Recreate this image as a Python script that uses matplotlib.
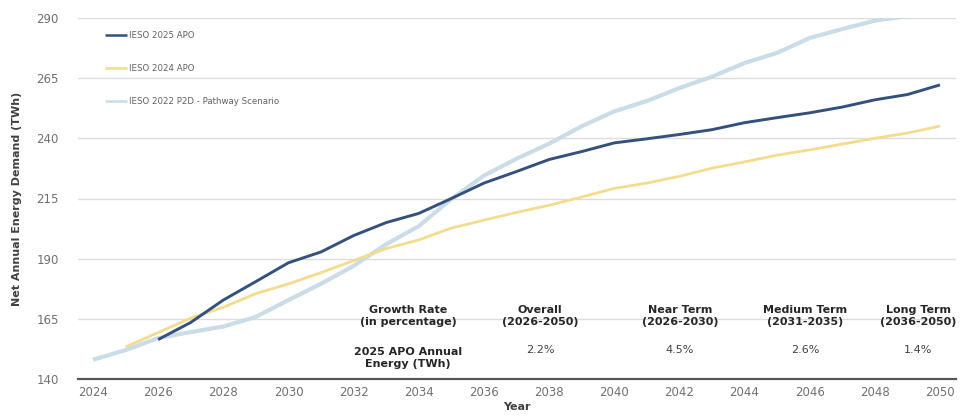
import matplotlib
import matplotlib.pyplot as plt

matplotlib.use('Agg')

# 年
years = list(range(2024, 2051))

# IESO 2025 APO (2026-2050)
apo_2025_years = list(range(2026, 2051))
apo_2025 = [156.4, 163.5, 172.8, 180.5, 188.3, 192.8, 199.6, 205.0, 208.8, 215.0,
            221.4, 226.2, 231.2, 234.5, 238.1, 239.8, 241.6, 243.6, 246.5, 248.6,
            250.6, 253.0, 256.0, 258.2, 262.2]

# IESO 2024 APO (2025-2050)
apo_2024_years = list(range(2025, 2051))
apo_2024 = [153.3, 159.3, 165.3, 169.8, 175.5, 179.5, 184.2, 189.2, 194.2, 197.8,
            202.7, 206.0, 209.2, 212.2, 215.6, 219.2, 221.4, 224.2, 227.6, 230.2,
            233.0, 235.2, 237.6, 240.0, 242.2, 245.1]

# IESO 2022 P2D - Pathway Scenario (2024-2050)
p2d_years = list(range(2024, 2051))
p2d_2022 = [148.0, 152.0, 157.0, 159.5, 161.8, 165.8, 172.8, 179.6, 187.0, 196.0,
            203.5, 214.8, 224.5, 231.5, 237.8, 245.0, 251.2, 255.5, 260.9, 265.6,
            271.3, 275.5, 281.7, 285.4, 288.9, 290.8, 293.3]

x_ticks = list(range(2024, 2051, 2))
y_ticks = [140, 165, 190, 215, 240, 265, 290]

# 表
table_cols = ['Overall\n(2026-2050)', 'Near Term\n(2026-2030)',
              'Medium Term\n(2031-2035)', 'Long Term\n(2036-2050)']
table_vals = ['2.2%', '4.5%', '2.6%', '1.4%']
row_head = 'Growth Rate\n(in percentage)'
row_label = '2025 APO Annual\nEnergy (TWh)'

W, H = 969, 417
fig = plt.figure(figsize=(W / 100, H / 100), dpi=100)
ax = fig.add_axes([78 / W, (H - 379) / H, 878 / W, 361 / H])

c_dark = '#34507c'
c_yellow = '#f3dc8e'
c_light = '#cadce8'

ax.plot(p2d_years, p2d_2022, color=c_light, lw=3.0, solid_capstyle='butt',
        label='IESO 2022 P2D - Pathway Scenario', zorder=2)
ax.plot(apo_2024_years, apo_2024, color=c_yellow, lw=2.0, solid_capstyle='butt',
        label='IESO 2024 APO', zorder=3)
ax.plot(apo_2025_years, apo_2025, color=c_dark, lw=2.1, solid_capstyle='butt',
        label='IESO 2025 APO', zorder=4)

ax.set_xlim(2024 - 15 / 32.58, 2050 + 16 / 32.58)
ax.set_ylim(140, 290)
ax.set_xticks(x_ticks)
ax.set_yticks(y_ticks)
ax.tick_params(length=0, colors='#707070', labelsize=8.5)
ax.tick_params(axis='y', pad=14)
ax.tick_params(axis='x', pad=5)
ax.grid(axis='y', color='#dcdcdc', lw=1)
ax.set_axisbelow(True)
for s in ['top', 'right', 'left']:
    ax.spines[s].set_visible(False)
ax.spines['bottom'].set_color('#555555')
ax.spines['bottom'].set_linewidth(1.6)
ax.spines['bottom'].set_zorder(5)

ax.set_ylabel('Net Annual Energy Demand (TWh)', fontsize=8, fontweight='bold',
              color='#404040', labelpad=10)
ax.set_xlabel('Year', fontsize=8, fontweight='bold', color='#404040', labelpad=2)

# 凡例
h, l = ax.get_legend_handles_labels()
order = [2, 1, 0]
leg = ax.legend([h[i] for i in order], [l[i] for i in order], loc='upper left',
                bbox_to_anchor=(0.022, 0.985), frameon=False, fontsize=6.2,
                handlelength=2.6, handletextpad=0.15, labelspacing=2.75,
                labelcolor='#606060')
for ln in leg.get_lines():
    ln.set_linewidth(1.8)

# 成長率の表
def fx(px):
    return px / W

def fy(py):
    return 1 - py / H

fig.text(fx(408), fy(316), row_head, ha='center', va='center', fontsize=8,
         fontweight='bold', color='#262626', linespacing=1.15)
fig.text(fx(408), fy(358), row_label, ha='center', va='center', fontsize=8,
         fontweight='bold', color='#262626', linespacing=1.15)
col_x = [540, 680, 805, 918]
for cx, col, val in zip(col_x, table_cols, table_vals):
    fig.text(fx(cx), fy(316), col, ha='center', va='center', fontsize=8,
             fontweight='bold', color='#262626', linespacing=1.15)
    fig.text(fx(cx), fy(350), val, ha='center', va='center', fontsize=8,
             color='#404040')

fig.savefig('out.png', dpi=100)
